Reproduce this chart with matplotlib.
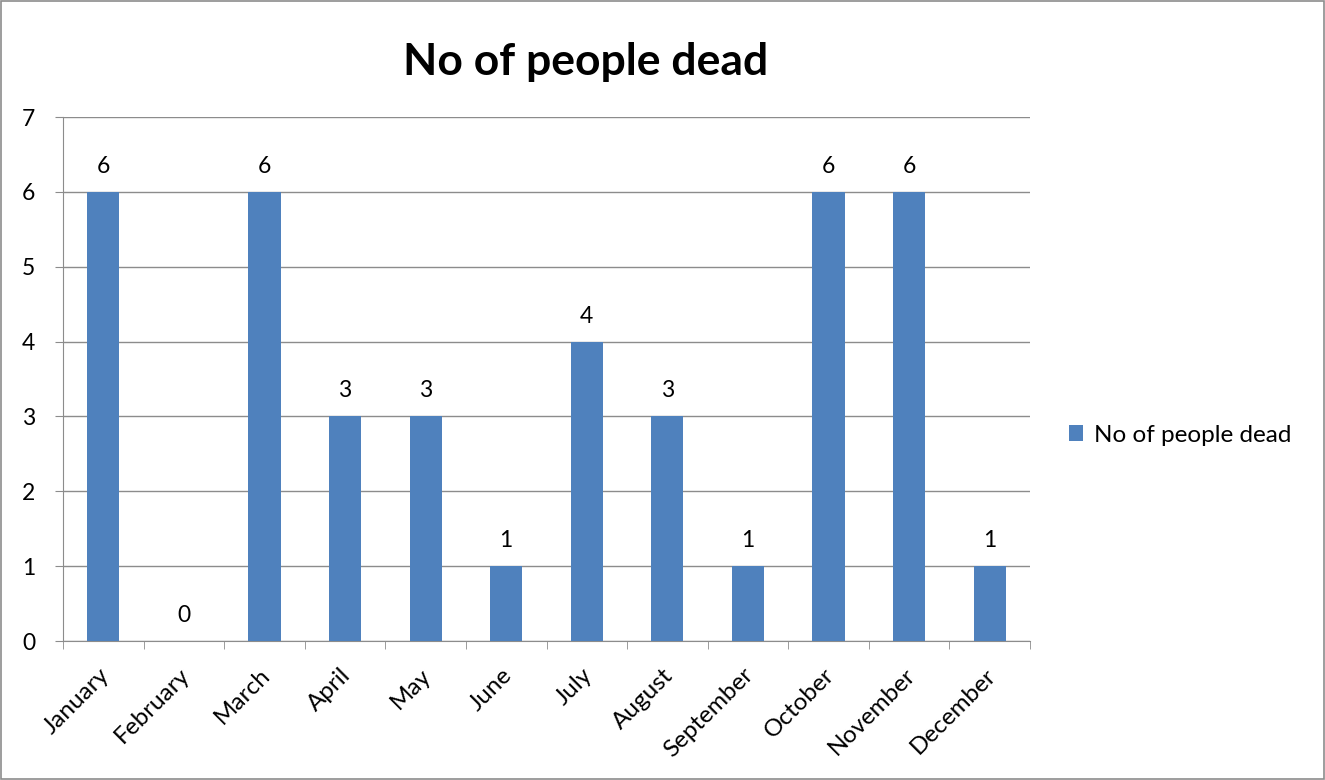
import matplotlib
matplotlib.use("Agg")
import matplotlib.pyplot as plt
from matplotlib.patches import Rectangle
import matplotlib.transforms as mtrans
import numpy as np

months = ["January", "February", "March", "April", "May", "June", "July",
          "August", "September", "October", "November", "December"]
deaths = [6, 0, 6, 3, 3, 1, 4, 3, 1, 6, 6, 1]
series_name = "No of people dead"
title = "No of people dead"

plt.rcParams['font.family'] = ['Lato', 'DejaVu Sans']

fig = plt.figure(figsize=(13.25, 7.8), dpi=100)
ax = fig.add_axes([63/1325, 1-641/780, (1030-63)/1325, (641-117)/780])

x = np.arange(len(months))
color = "#4F81BD"
bars = ax.bar(x, deaths, width=0.4, color=color, zorder=3, label=series_name)
for xi, v in zip(x, deaths):
    ax.text(xi, v + 0.2, str(v), ha="center", va="bottom", fontsize=16.5, color="black")

ax.set_xlim(-0.5, len(months) - 0.5)
ax.set_ylim(0, 7)
ax.set_yticks(range(0, 8))
ax.yaxis.grid(True, color="#8c8c8c", linewidth=1, zorder=0)
ax.set_xticks(x)
ax.set_xticklabels(months, rotation=45, ha="right", rotation_mode="anchor", fontsize=17.5)
ax.tick_params(axis="x", length=0, pad=14)
offset = mtrans.ScaledTranslation(-5/100, -4/100, fig.dpi_scale_trans)
for lab in ax.get_xticklabels():
    lab.set_transform(lab.get_transform() + offset)
ax.set_xticks(np.arange(-0.5, len(months)), minor=True)
ax.tick_params(axis="x", which="minor", length=6, color="#8c8c8c")
ax.tick_params(axis="y", length=6, color="#8c8c8c", labelsize=16.5, pad=14)
for s in ["top", "right"]:
    ax.spines[s].set_visible(False)
for s in ["left", "bottom"]:
    ax.spines[s].set_color("#8c8c8c")

fig.text(586/1325, 1-62/780, title, ha="center", va="center", fontsize=32, fontweight="bold")

leg = fig.legend(handles=[bars], labels=[series_name], loc="center left",
                 bbox_to_anchor=(1047/1325, 1-435/780), frameon=False, fontsize=17.5,
                 handlelength=0.6, handleheight=0.6, handletextpad=0.45)

fig.patches.append(Rectangle((0.001, 0.001), 0.998, 0.998, transform=fig.transFigure,
                             fill=False, edgecolor="#8c8c8c", linewidth=1.2))

fig.savefig("out.png", dpi=100)
